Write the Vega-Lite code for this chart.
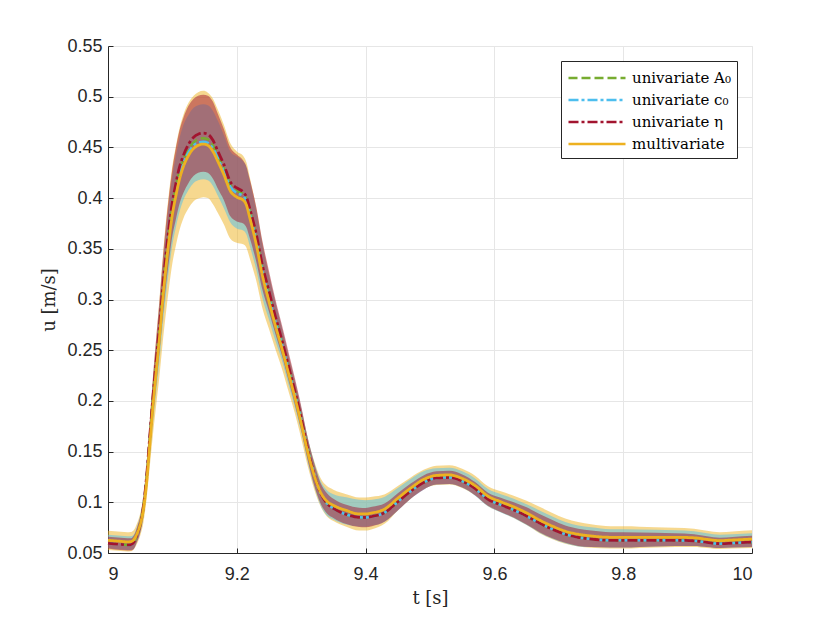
{
  "$schema": "https://vega.github.io/schema/vega-lite/v6.json",
  "width": 644,
  "height": 507,
  "autosize": {"type": "none"},
  "padding": {"left": 108, "top": 46, "right": 78, "bottom": 70},
  "background": "white",
  "data": {
    "values": [
      {"t": 9.00, "mv": 0.0625, "mvl": 0.053, "mvh": 0.072, "eta": 0.0595, "etal": 0.0545, "etah": 0.066, "c0": 0.0595, "c0l": 0.055, "c0h": 0.068, "a0": 0.0595},
      {"t": 9.01, "mv": 0.062, "mvl": 0.0525, "mvh": 0.0715, "eta": 0.059, "etal": 0.0535, "etah": 0.0655, "c0": 0.059, "c0l": 0.054, "c0h": 0.0675, "a0": 0.059},
      {"t": 9.02, "mv": 0.0615, "mvl": 0.052, "mvh": 0.071, "eta": 0.0585, "etal": 0.053, "etah": 0.065, "c0": 0.0585, "c0l": 0.0535, "c0h": 0.067, "a0": 0.0585},
      {"t": 9.03, "mv": 0.061, "mvl": 0.0515, "mvh": 0.0705, "eta": 0.058, "etal": 0.0525, "etah": 0.0645, "c0": 0.058, "c0l": 0.053, "c0h": 0.0665, "a0": 0.058},
      {"t": 9.035, "mv": 0.0612, "mvl": 0.0517, "mvh": 0.0707, "eta": 0.058, "etal": 0.0525, "etah": 0.0645, "c0": 0.058, "c0l": 0.053, "c0h": 0.0665, "a0": 0.058},
      {"t": 9.04, "mv": 0.063, "mvl": 0.0535, "mvh": 0.0725, "eta": 0.0605, "etal": 0.054, "etah": 0.067, "c0": 0.061, "c0l": 0.054, "c0h": 0.068, "a0": 0.0607},
      {"t": 9.045, "mv": 0.069, "mvl": 0.059, "mvh": 0.079, "eta": 0.068, "etal": 0.061, "etah": 0.075, "c0": 0.068, "c0l": 0.061, "c0h": 0.076, "a0": 0.068},
      {"t": 9.05, "mv": 0.078, "mvl": 0.067, "mvh": 0.089, "eta": 0.078, "etal": 0.070, "etah": 0.086, "c0": 0.078, "c0l": 0.070, "c0h": 0.087, "a0": 0.078},
      {"t": 9.055, "mv": 0.093, "mvl": 0.080, "mvh": 0.106, "eta": 0.096, "etal": 0.086, "etah": 0.106, "c0": 0.095, "c0l": 0.085, "c0h": 0.106, "a0": 0.096},
      {"t": 9.06, "mv": 0.120, "mvl": 0.104, "mvh": 0.136, "eta": 0.126, "etal": 0.114, "etah": 0.138, "c0": 0.124, "c0l": 0.111, "c0h": 0.137, "a0": 0.125},
      {"t": 9.065, "mv": 0.158, "mvl": 0.136, "mvh": 0.180, "eta": 0.166, "etal": 0.150, "etah": 0.182, "c0": 0.162, "c0l": 0.145, "c0h": 0.179, "a0": 0.164},
      {"t": 9.07, "mv": 0.196, "mvl": 0.168, "mvh": 0.224, "eta": 0.205, "etal": 0.185, "etah": 0.225, "c0": 0.200, "c0l": 0.179, "c0h": 0.221, "a0": 0.203},
      {"t": 9.075, "mv": 0.230, "mvl": 0.197, "mvh": 0.263, "eta": 0.240, "etal": 0.217, "etah": 0.263, "c0": 0.234, "c0l": 0.210, "c0h": 0.258, "a0": 0.237},
      {"t": 9.08, "mv": 0.263, "mvl": 0.225, "mvh": 0.301, "eta": 0.274, "etal": 0.249, "etah": 0.299, "c0": 0.267, "c0l": 0.240, "c0h": 0.294, "a0": 0.271},
      {"t": 9.085, "mv": 0.300, "mvl": 0.258, "mvh": 0.342, "eta": 0.311, "etal": 0.283, "etah": 0.339, "c0": 0.304, "c0l": 0.275, "c0h": 0.333, "a0": 0.308},
      {"t": 9.09, "mv": 0.332, "mvl": 0.287, "mvh": 0.377, "eta": 0.344, "etal": 0.314, "etah": 0.374, "c0": 0.336, "c0l": 0.305, "c0h": 0.367, "a0": 0.340},
      {"t": 9.095, "mv": 0.360, "mvl": 0.313, "mvh": 0.407, "eta": 0.372, "etal": 0.340, "etah": 0.404, "c0": 0.364, "c0l": 0.331, "c0h": 0.397, "a0": 0.368},
      {"t": 9.10, "mv": 0.384, "mvl": 0.336, "mvh": 0.432, "eta": 0.396, "etal": 0.363, "etah": 0.429, "c0": 0.388, "c0l": 0.354, "c0h": 0.422, "a0": 0.392},
      {"t": 9.105, "mv": 0.401, "mvl": 0.352, "mvh": 0.450, "eta": 0.413, "etal": 0.378, "etah": 0.448, "c0": 0.405, "c0l": 0.370, "c0h": 0.440, "a0": 0.409},
      {"t": 9.11, "mv": 0.416, "mvl": 0.366, "mvh": 0.466, "eta": 0.428, "etal": 0.392, "etah": 0.464, "c0": 0.420, "c0l": 0.384, "c0h": 0.456, "a0": 0.424},
      {"t": 9.117, "mv": 0.431, "mvl": 0.380, "mvh": 0.482, "eta": 0.442, "etal": 0.405, "etah": 0.479, "c0": 0.435, "c0l": 0.398, "c0h": 0.472, "a0": 0.438},
      {"t": 9.125, "mv": 0.442, "mvl": 0.390, "mvh": 0.494, "eta": 0.453, "etal": 0.415, "etah": 0.491, "c0": 0.445, "c0l": 0.408, "c0h": 0.482, "a0": 0.448},
      {"t": 9.133, "mv": 0.449, "mvl": 0.397, "mvh": 0.501, "eta": 0.460, "etal": 0.422, "etah": 0.498, "c0": 0.452, "c0l": 0.415, "c0h": 0.489, "a0": 0.455},
      {"t": 9.14, "mv": 0.452, "mvl": 0.3995, "mvh": 0.5045, "eta": 0.463, "etal": 0.425, "etah": 0.501, "c0": 0.4545, "c0l": 0.4175, "c0h": 0.4915, "a0": 0.458},
      {"t": 9.148, "mv": 0.4533, "mvl": 0.4008, "mvh": 0.5058, "eta": 0.464, "etal": 0.426, "etah": 0.502, "c0": 0.4556, "c0l": 0.4186, "c0h": 0.4926, "a0": 0.459},
      {"t": 9.155, "mv": 0.452, "mvl": 0.400, "mvh": 0.504, "eta": 0.463, "etal": 0.425, "etah": 0.501, "c0": 0.4545, "c0l": 0.4175, "c0h": 0.4915, "a0": 0.458},
      {"t": 9.163, "mv": 0.446, "mvl": 0.394, "mvh": 0.498, "eta": 0.457, "etal": 0.419, "etah": 0.495, "c0": 0.449, "c0l": 0.412, "c0h": 0.486, "a0": 0.452},
      {"t": 9.17, "mv": 0.437, "mvl": 0.386, "mvh": 0.488, "eta": 0.447, "etal": 0.410, "etah": 0.484, "c0": 0.440, "c0l": 0.403, "c0h": 0.477, "a0": 0.443},
      {"t": 9.18, "mv": 0.423, "mvl": 0.374, "mvh": 0.472, "eta": 0.433, "etal": 0.398, "etah": 0.468, "c0": 0.426, "c0l": 0.390, "c0h": 0.462, "a0": 0.429},
      {"t": 9.19, "mv": 0.407, "mvl": 0.360, "mvh": 0.454, "eta": 0.416, "etal": 0.382, "etah": 0.450, "c0": 0.411, "c0l": 0.376, "c0h": 0.446, "a0": 0.413},
      {"t": 9.20, "mv": 0.401, "mvl": 0.356, "mvh": 0.446, "eta": 0.410, "etal": 0.377, "etah": 0.443, "c0": 0.405, "c0l": 0.370, "c0h": 0.441, "a0": 0.407},
      {"t": 9.21, "mv": 0.398, "mvl": 0.3545, "mvh": 0.4415, "eta": 0.406, "etal": 0.375, "etah": 0.437, "c0": 0.402, "c0l": 0.368, "c0h": 0.436, "a0": 0.404},
      {"t": 9.215, "mv": 0.393, "mvl": 0.351, "mvh": 0.435, "eta": 0.401, "etal": 0.371, "etah": 0.431, "c0": 0.397, "c0l": 0.364, "c0h": 0.430, "a0": 0.399},
      {"t": 9.22, "mv": 0.381, "mvl": 0.341, "mvh": 0.421, "eta": 0.390, "etal": 0.361, "etah": 0.419, "c0": 0.385, "c0l": 0.353, "c0h": 0.417, "a0": 0.388},
      {"t": 9.23, "mv": 0.355, "mvl": 0.319, "mvh": 0.391, "eta": 0.365, "etal": 0.338, "etah": 0.392, "c0": 0.359, "c0l": 0.330, "c0h": 0.388, "a0": 0.362},
      {"t": 9.24, "mv": 0.323, "mvl": 0.291, "mvh": 0.355, "eta": 0.333, "etal": 0.309, "etah": 0.357, "c0": 0.327, "c0l": 0.301, "c0h": 0.353, "a0": 0.330},
      {"t": 9.25, "mv": 0.298, "mvl": 0.271, "mvh": 0.325, "eta": 0.308, "etal": 0.288, "etah": 0.328, "c0": 0.302, "c0l": 0.280, "c0h": 0.324, "a0": 0.305},
      {"t": 9.26, "mv": 0.274, "mvl": 0.251, "mvh": 0.297, "eta": 0.283, "etal": 0.266, "etah": 0.300, "c0": 0.278, "c0l": 0.259, "c0h": 0.297, "a0": 0.281},
      {"t": 9.27, "mv": 0.252, "mvl": 0.232, "mvh": 0.272, "eta": 0.260, "etal": 0.245, "etah": 0.275, "c0": 0.256, "c0l": 0.240, "c0h": 0.272, "a0": 0.258},
      {"t": 9.28, "mv": 0.228, "mvl": 0.210, "mvh": 0.246, "eta": 0.235, "etal": 0.221, "etah": 0.249, "c0": 0.231, "c0l": 0.217, "c0h": 0.245, "a0": 0.233},
      {"t": 9.29, "mv": 0.204, "mvl": 0.188, "mvh": 0.220, "eta": 0.210, "etal": 0.197, "etah": 0.223, "c0": 0.207, "c0l": 0.194, "c0h": 0.220, "a0": 0.209},
      {"t": 9.30, "mv": 0.178, "mvl": 0.163, "mvh": 0.193, "eta": 0.183, "etal": 0.171, "etah": 0.195, "c0": 0.181, "c0l": 0.169, "c0h": 0.193, "a0": 0.182},
      {"t": 9.31, "mv": 0.150, "mvl": 0.136, "mvh": 0.164, "eta": 0.153, "etal": 0.142, "etah": 0.164, "c0": 0.152, "c0l": 0.140, "c0h": 0.164, "a0": 0.153},
      {"t": 9.32, "mv": 0.127, "mvl": 0.113, "mvh": 0.141, "eta": 0.128, "etal": 0.117, "etah": 0.139, "c0": 0.128, "c0l": 0.116, "c0h": 0.140, "a0": 0.128},
      {"t": 9.33, "mv": 0.110, "mvl": 0.096, "mvh": 0.124, "eta": 0.109, "etal": 0.099, "etah": 0.119, "c0": 0.109, "c0l": 0.097, "c0h": 0.121, "a0": 0.109},
      {"t": 9.34, "mv": 0.101, "mvl": 0.086, "mvh": 0.116, "eta": 0.099, "etal": 0.089, "etah": 0.109, "c0": 0.099, "c0l": 0.087, "c0h": 0.112, "a0": 0.099},
      {"t": 9.35, "mv": 0.097, "mvl": 0.0815, "mvh": 0.1125, "eta": 0.094, "etal": 0.0845, "etah": 0.1035, "c0": 0.094, "c0l": 0.083, "c0h": 0.108, "a0": 0.094},
      {"t": 9.37, "mv": 0.092, "mvl": 0.076, "mvh": 0.108, "eta": 0.088, "etal": 0.0785, "etah": 0.0975, "c0": 0.088, "c0l": 0.078, "c0h": 0.105, "a0": 0.088},
      {"t": 9.39, "mv": 0.0885, "mvl": 0.0722, "mvh": 0.1048, "eta": 0.0852, "etal": 0.0757, "etah": 0.0947, "c0": 0.0852, "c0l": 0.0762, "c0h": 0.1025, "a0": 0.0852},
      {"t": 9.40, "mv": 0.0885, "mvl": 0.0722, "mvh": 0.1048, "eta": 0.085, "etal": 0.0755, "etah": 0.0945, "c0": 0.085, "c0l": 0.076, "c0h": 0.102, "a0": 0.085},
      {"t": 9.41, "mv": 0.0895, "mvl": 0.0735, "mvh": 0.1055, "eta": 0.086, "etal": 0.0765, "etah": 0.0955, "c0": 0.086, "c0l": 0.077, "c0h": 0.1025, "a0": 0.086},
      {"t": 9.43, "mv": 0.0935, "mvl": 0.079, "mvh": 0.108, "eta": 0.090, "etal": 0.081, "etah": 0.099, "c0": 0.090, "c0l": 0.081, "c0h": 0.1055, "a0": 0.090},
      {"t": 9.45, "mv": 0.104, "mvl": 0.092, "mvh": 0.116, "eta": 0.1005, "etal": 0.092, "etah": 0.109, "c0": 0.1005, "c0l": 0.092, "c0h": 0.114, "a0": 0.1005},
      {"t": 9.47, "mv": 0.114, "mvl": 0.1035, "mvh": 0.1245, "eta": 0.111, "etal": 0.1035, "etah": 0.1185, "c0": 0.111, "c0l": 0.1035, "c0h": 0.123, "a0": 0.111},
      {"t": 9.49, "mv": 0.1225, "mvl": 0.113, "mvh": 0.132, "eta": 0.1195, "etal": 0.1125, "etah": 0.1265, "c0": 0.1195, "c0l": 0.1125, "c0h": 0.1305, "a0": 0.1195},
      {"t": 9.51, "mv": 0.1265, "mvl": 0.117, "mvh": 0.136, "eta": 0.124, "etal": 0.1175, "etah": 0.1305, "c0": 0.124, "c0l": 0.1175, "c0h": 0.1335, "a0": 0.124},
      {"t": 9.53, "mv": 0.127, "mvl": 0.1175, "mvh": 0.1365, "eta": 0.1245, "etal": 0.118, "etah": 0.131, "c0": 0.1245, "c0l": 0.118, "c0h": 0.134, "a0": 0.1245},
      {"t": 9.55, "mv": 0.1235, "mvl": 0.114, "mvh": 0.133, "eta": 0.121, "etal": 0.1145, "etah": 0.1275, "c0": 0.121, "c0l": 0.1145, "c0h": 0.1305, "a0": 0.121},
      {"t": 9.57, "mv": 0.1165, "mvl": 0.1068, "mvh": 0.1262, "eta": 0.1135, "etal": 0.107, "etah": 0.120, "c0": 0.1135, "c0l": 0.1065, "c0h": 0.1235, "a0": 0.1135},
      {"t": 9.59, "mv": 0.106, "mvl": 0.0962, "mvh": 0.1158, "eta": 0.103, "etal": 0.0965, "etah": 0.1095, "c0": 0.103, "c0l": 0.096, "c0h": 0.113, "a0": 0.103},
      {"t": 9.61, "mv": 0.1005, "mvl": 0.0902, "mvh": 0.1108, "eta": 0.0975, "etal": 0.0905, "etah": 0.1045, "c0": 0.0975, "c0l": 0.090, "c0h": 0.108, "a0": 0.0975},
      {"t": 9.63, "mv": 0.0955, "mvl": 0.0845, "mvh": 0.1065, "eta": 0.0925, "etal": 0.085, "etah": 0.100, "c0": 0.0925, "c0l": 0.0845, "c0h": 0.1035, "a0": 0.0925},
      {"t": 9.65, "mv": 0.0895, "mvl": 0.0775, "mvh": 0.1015, "eta": 0.0865, "etal": 0.078, "etah": 0.095, "c0": 0.0865, "c0l": 0.0775, "c0h": 0.098, "a0": 0.0865},
      {"t": 9.67, "mv": 0.0825, "mvl": 0.0695, "mvh": 0.0955, "eta": 0.0795, "etal": 0.0705, "etah": 0.0885, "c0": 0.0795, "c0l": 0.070, "c0h": 0.092, "a0": 0.0795},
      {"t": 9.69, "mv": 0.0765, "mvl": 0.0635, "mvh": 0.0895, "eta": 0.0735, "etal": 0.0645, "etah": 0.0825, "c0": 0.0735, "c0l": 0.064, "c0h": 0.086, "a0": 0.0735},
      {"t": 9.71, "mv": 0.0715, "mvl": 0.059, "mvh": 0.084, "eta": 0.0685, "etal": 0.060, "etah": 0.077, "c0": 0.0685, "c0l": 0.0595, "c0h": 0.0805, "a0": 0.0685},
      {"t": 9.73, "mv": 0.0685, "mvl": 0.0565, "mvh": 0.0805, "eta": 0.0655, "etal": 0.057, "etah": 0.074, "c0": 0.0655, "c0l": 0.0565, "c0h": 0.077, "a0": 0.0655},
      {"t": 9.75, "mv": 0.0668, "mvl": 0.0553, "mvh": 0.0783, "eta": 0.0638, "etal": 0.0558, "etah": 0.0721, "c0": 0.0638, "c0l": 0.0558, "c0h": 0.0755, "a0": 0.0638},
      {"t": 9.78, "mv": 0.0655, "mvl": 0.0545, "mvh": 0.0765, "eta": 0.0625, "etal": 0.0555, "etah": 0.0705, "c0": 0.0625, "c0l": 0.0555, "c0h": 0.0735, "a0": 0.0625},
      {"t": 9.80, "mv": 0.0655, "mvl": 0.0545, "mvh": 0.0765, "eta": 0.0625, "etal": 0.0555, "etah": 0.0705, "c0": 0.0625, "c0l": 0.0555, "c0h": 0.0735, "a0": 0.0625},
      {"t": 9.85, "mv": 0.0655, "mvl": 0.0555, "mvh": 0.0755, "eta": 0.0625, "etal": 0.0565, "etah": 0.070, "c0": 0.0625, "c0l": 0.0565, "c0h": 0.073, "a0": 0.0625},
      {"t": 9.88, "mv": 0.0655, "mvl": 0.056, "mvh": 0.075, "eta": 0.0625, "etal": 0.057, "etah": 0.0695, "c0": 0.0625, "c0l": 0.057, "c0h": 0.0725, "a0": 0.0625},
      {"t": 9.91, "mv": 0.065, "mvl": 0.056, "mvh": 0.074, "eta": 0.062, "etal": 0.057, "etah": 0.0685, "c0": 0.062, "c0l": 0.057, "c0h": 0.0715, "a0": 0.062},
      {"t": 9.93, "mv": 0.0635, "mvl": 0.055, "mvh": 0.072, "eta": 0.0605, "etal": 0.056, "etah": 0.0665, "c0": 0.0605, "c0l": 0.056, "c0h": 0.0695, "a0": 0.0605},
      {"t": 9.95, "mv": 0.0622, "mvl": 0.054, "mvh": 0.0705, "eta": 0.0592, "etal": 0.055, "etah": 0.065, "c0": 0.0592, "c0l": 0.055, "c0h": 0.068, "a0": 0.0592},
      {"t": 9.97, "mv": 0.0628, "mvl": 0.0545, "mvh": 0.0712, "eta": 0.0598, "etal": 0.0555, "etah": 0.0658, "c0": 0.0598, "c0l": 0.0555, "c0h": 0.0685, "a0": 0.0598},
      {"t": 10.0, "mv": 0.0637, "mvl": 0.055, "mvh": 0.0724, "eta": 0.0607, "etal": 0.056, "etah": 0.067, "c0": 0.0607, "c0l": 0.056, "c0h": 0.0695, "a0": 0.0607}
    ]
  },
  "encoding": {
    "x": {
      "field": "t",
      "type": "quantitative",
      "title": "t [s]",
      "scale": {"domain": [9, 10], "nice": false, "zero": false},
      "axis": {"values": [9, 9.2, 9.4, 9.6, 9.8, 10], "format": "~g"}
    }
  },
  "layer": [
    {
      "mark": {"type": "area", "interpolate": "monotone", "color": "#EDB120", "opacity": 0.5},
      "encoding": {
        "y": {
          "field": "mvl",
          "type": "quantitative",
          "title": "u [m/s]",
          "scale": {"domain": [0.05, 0.55], "nice": false, "zero": false},
          "axis": {"values": [0.05, 0.1, 0.15, 0.2, 0.25, 0.3, 0.35, 0.4, 0.45, 0.5, 0.55], "format": "~g"}
        },
        "y2": {"field": "mvh"}
      }
    },
    {
      "mark": {"type": "area", "interpolate": "monotone", "color": "#4DBEEE", "opacity": 0.5},
      "encoding": {
        "y": {"field": "c0l", "type": "quantitative", "title": "u [m/s]"},
        "y2": {"field": "c0h"}
      }
    },
    {
      "mark": {"type": "area", "interpolate": "monotone", "color": "#A2142F", "opacity": 0.5},
      "encoding": {
        "y": {"field": "etal", "type": "quantitative", "title": "u [m/s]"},
        "y2": {"field": "etah"}
      }
    },
    {
      "mark": {"type": "line", "interpolate": "monotone", "strokeWidth": 2.5},
      "encoding": {
        "y": {"field": "a0", "type": "quantitative", "title": "u [m/s]"},
        "stroke": {
          "datum": "univariate A₀",
          "type": "nominal",
          "scale": {
            "domain": ["univariate A₀", "univariate c₀", "univariate η", "multivariate"],
            "range": ["#77AC30", "#4DBEEE", "#A2142F", "#EDB120"]
          },
          "legend": {"title": null}
        },
        "strokeDash": {
          "datum": "univariate A₀",
          "type": "nominal",
          "scale": {
            "domain": ["univariate A₀", "univariate c₀", "univariate η", "multivariate"],
            "range": [[9, 4], [10, 3, 3, 3], [10, 3, 3, 3], [1, 0]]
          },
          "legend": {"title": null}
        }
      }
    },
    {
      "mark": {"type": "line", "interpolate": "monotone", "strokeWidth": 2.5},
      "encoding": {
        "y": {"field": "c0", "type": "quantitative", "title": "u [m/s]"},
        "stroke": {"datum": "univariate c₀", "type": "nominal"},
        "strokeDash": {"datum": "univariate c₀", "type": "nominal"}
      }
    },
    {
      "mark": {"type": "line", "interpolate": "monotone", "strokeWidth": 2.8},
      "encoding": {
        "y": {"field": "eta", "type": "quantitative", "title": "u [m/s]"},
        "stroke": {"datum": "univariate η", "type": "nominal"},
        "strokeDash": {"datum": "univariate η", "type": "nominal"}
      }
    },
    {
      "mark": {"type": "line", "interpolate": "monotone", "strokeWidth": 2.8},
      "encoding": {
        "y": {"field": "mv", "type": "quantitative", "title": "u [m/s]"},
        "stroke": {"datum": "multivariate", "type": "nominal"},
        "strokeDash": {"datum": "multivariate", "type": "nominal"}
      }
    }
  ],
  "config": {
    "view": {"stroke": "#e6e6e6", "strokeWidth": 1},
    "axis": {
      "domainColor": "#262626",
      "domainWidth": 1,
      "tickColor": "#262626",
      "tickWidth": 1,
      "tickSize": -5,
      "gridColor": "#e6e6e6",
      "gridWidth": 1,
      "labelFont": "Liberation Sans",
      "labelFontSize": 18,
      "labelColor": "#262626",
      "titleFont": "DejaVu Serif",
      "titleFontSize": 18,
      "titleFontWeight": "normal",
      "titleColor": "#262626"
    },
    "axisX": {"labelPadding": 17, "titlePadding": 6},
    "axisY": {"labelPadding": 11, "titlePadding": 8},
    "legend": {
      "orient": "top-right",
      "offset": 15,
      "fillColor": "white",
      "strokeColor": "#262626",
      "padding": 6,
      "labelFont": "DejaVu Serif",
      "labelFontSize": 15,
      "labelColor": "#000000",
      "labelOffset": 43,
      "rowPadding": 3,
      "symbolType": "M-1,0L5,0",
      "symbolSize": 361,
      "symbolStrokeWidth": 2.5
    }
  }
}
